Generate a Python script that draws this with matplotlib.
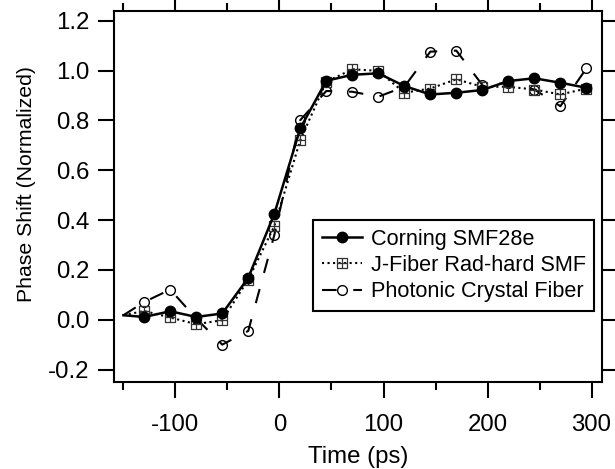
import matplotlib
matplotlib.use('Agg')
import matplotlib.pyplot as plt
from matplotlib.path import Path

plt.rcParams['font.family'] = ['Liberation Sans', 'DejaVu Sans']
plt.rcParams['axes.unicode_minus'] = False

# time axis (ps), first point has no marker
time_ps = [-150, -130, -105, -80, -55, -30, -5, 20, 45, 70, 95,
           120, 145, 170, 195, 220, 245, 270, 295]

corning = [0.018, 0.011, 0.034, 0.011, 0.025, 0.168, 0.424, 0.768, 0.959, 0.983, 0.989,
           0.938, 0.904, 0.911, 0.922, 0.958, 0.969, 0.951, 0.931]
jfiber = [0.018, 0.035, 0.009, -0.018, -0.002, 0.161, 0.375, 0.721, 0.955, 1.005, 0.999,
          0.911, 0.928, 0.965, 0.935, 0.935, 0.924, 0.904, 0.928]
pcf = [0.018, 0.071, 0.121, 0.005, -0.100, -0.045, 0.339, 0.801, 0.918, 0.915, 0.895,
       0.935, 1.076, 1.080, 0.942, 0.950, 0.924, 0.857, 1.009]

labels = ['Corning SMF28e', 'J-Fiber Rad-hard SMF', 'Photonic Crystal Fiber']

# square with a cross inside (Igor style marker)
sq_plus = Path([(-1, -1), (1, -1), (1, 1), (-1, 1), (-1, -1),
                (0, -1), (0, 1), (-1, 0), (1, 0)],
               [Path.MOVETO, Path.LINETO, Path.LINETO, Path.LINETO, Path.CLOSEPOLY,
                Path.MOVETO, Path.LINETO, Path.MOVETO, Path.LINETO])

fig = plt.figure(figsize=(6.15, 4.69), dpi=100)
ax = fig.add_axes([0.1854, 0.1855, 0.7935, 0.791])

marks = list(range(1, len(time_ps)))

l_pcf, = ax.plot(time_ps, pcf, color='black', lw=1.5, linestyle=(0, (7, 8)),
                 marker='o', ms=7, mfc='none', mec='black', mew=1.0,
                 markevery=marks, zorder=2)
l_jf, = ax.plot(time_ps, jfiber, color='black', lw=1.5, linestyle=':',
                marker=sq_plus, ms=6.5, mfc='none', mec='#333333', mew=0.9,
                markevery=marks, zorder=3)
l_cor, = ax.plot(time_ps, corning, color='black', lw=1.8, linestyle='-',
                 marker='o', ms=7.5, mfc='black', mec='black',
                 markevery=marks, zorder=4)

ax.set_xlim(-159, 310)
ax.set_ylim(-0.25, 1.239)
ax.set_xticks([-100, 0, 100, 200, 300])
ax.set_xticks([-150, -50, 50, 150, 250], minor=True)
ax.set_yticks([-0.2, 0.0, 0.2, 0.4, 0.6, 0.8, 1.0, 1.2])
ax.set_yticklabels(['-0.2', '0.0', '0.2', '0.4', '0.6', '0.8', '1.0', '1.2'])

for s in ax.spines.values():
    s.set_linewidth(1.5)
ax.tick_params(which='both', direction='out', top=True, right=True,
               width=1.5, labelsize=17.3)
ax.tick_params(which='major', length=11.5)
ax.tick_params(which='minor', length=6)
ax.tick_params(axis='x', which='major', pad=11.5)
ax.tick_params(axis='y', which='major', pad=6)

ax.set_xlabel('Time (ps)', fontsize=17.3, labelpad=7.5)
ax.set_ylabel('Phase Shift (Normalized)', fontsize=15.3, labelpad=9)
ax.yaxis.label.set_y(0.534)

leg = ax.legend([l_cor, l_jf, l_pcf], labels,
                loc='upper right', bbox_to_anchor=(0.984, 0.437),
                fontsize=15.6, frameon=True, fancybox=False, framealpha=1,
                edgecolor='black', handlelength=1.85, handletextpad=0.4,
                labelspacing=0.25, borderpad=0.4, borderaxespad=0)
leg.get_frame().set_linewidth(1.5)

fig.savefig('out.png', dpi=100)
